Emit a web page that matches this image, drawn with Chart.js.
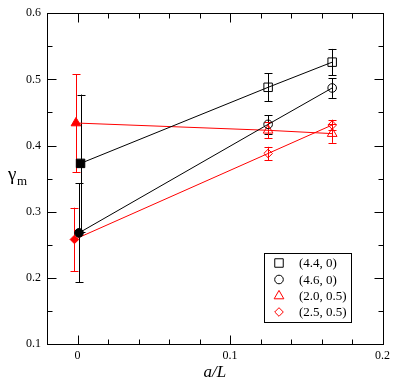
<!DOCTYPE html>
<html>
<head>
<meta charset="utf-8">
<script src="https://cdn.jsdelivr.net/npm/chart.js@4/dist/chart.umd.min.js"></script>
<style>
  html, body { margin: 0; padding: 0; background: #fff; }
  #wrap { width: 395px; height: 379px; }
</style>
</head>
<body>
<div id="wrap"><canvas id="chart" width="395" height="379"></canvas></div>
<script>
// ---- data ----
const legendLabels = ['(4.4, 0)', '(4.6, 0)', '(2.0, 0.5)', '(2.5, 0.5)'];

const xSq44 = [0.002, 0.125, 0.167];
const ySq44 = [0.373, 0.488, 0.526];
const eSq44 = [0.104, 0.021, 0.020];

const xCi46 = [0.001, 0.125, 0.167];
const yCi46 = [0.268, 0.432, 0.487];
const eCi46 = [0.075, 0.014, 0.015];

const xTr20 = [-0.001, 0.125, 0.167];
const yTr20 = [0.434, 0.423, 0.418];
const eTr20 = [0.074, 0.012, 0.014];

const xDi25 = [-0.002, 0.125, 0.167];
const yDi25 = [0.258, 0.388, 0.431];
const eDi25 = [0.048, 0.010, 0.008];

const xMajor = [0, 0.1, 0.2];
const yMajor = [0.1, 0.2, 0.3, 0.4, 0.5, 0.6];

const FONT = '"Liberation Serif", "DejaVu Serif", serif';
const CLEAR = 'rgba(0,0,0,0)';

function pts(xs, ys) {
    return xs.map((x, i) => ({ x: x, y: ys[i] }));
}

// filled marker at a/L = 0, open markers elsewhere
function fills(color) {
    return [color, CLEAR, CLEAR];
}

function makeSet(label, xs, ys, errs, color, style, radius) {
    return {
        label: label,
        data: pts(xs, ys),
        errors: errs,
        showLine: true,
        borderColor: color,
        borderWidth: 1,
        pointStyle: style,
        pointRadius: radius,
        pointHoverRadius: radius,
        pointBorderColor: color,
        pointBorderWidth: 1,
        pointBackgroundColor: fills(color)
    };
}

const datasets = [
    makeSet(legendLabels[0], xSq44, ySq44, eSq44, '#000000', 'rect', 6),
    makeSet(legendLabels[1], xCi46, yCi46, eCi46, '#000000', 'circle', 4.3),
    makeSet(legendLabels[2], xTr20, yTr20, eTr20, '#ff0000', 'triangle', 5.6),
    makeSet(legendLabels[3], xDi25, yDi25, eDi25, '#ff0000', 'rectRot', 4.3)
];

function isMajor(v, list) {
    return list.some(m => Math.abs(v - m) < 1e-9);
}

// error bars with small caps
const errorBars = {
    id: 'errorBars',
    beforeDatasetsDraw(chart) {
        const ctx = chart.ctx;
        const ys = chart.scales.y;
        ctx.save();
        chart.data.datasets.forEach((ds, i) => {
            const meta = chart.getDatasetMeta(i);
            ctx.strokeStyle = ds.borderColor;
            ctx.lineWidth = 1;
            meta.data.forEach((el, j) => {
                const v = ds.data[j].y;
                const e = ds.errors[j];
                const x = Math.round(el.x) + 0.5;
                const top = ys.getPixelForValue(v + e);
                const bot = ys.getPixelForValue(v - e);
                ctx.beginPath();
                ctx.moveTo(x, top);
                ctx.lineTo(x, bot);
                ctx.moveTo(x - 4, Math.round(top) + 0.5);
                ctx.lineTo(x + 4, Math.round(top) + 0.5);
                ctx.moveTo(x - 4, Math.round(bot) + 0.5);
                ctx.lineTo(x + 4, Math.round(bot) + 0.5);
                ctx.stroke();
            });
        });
        ctx.restore();
    }
};

// frame, inward ticks, axis titles and legend box
const frame = {
    id: 'frame',
    afterDraw(chart) {
        const ctx = chart.ctx;
        const a = chart.chartArea;
        const xs = chart.scales.x;
        const ys = chart.scales.y;
        ctx.save();
        ctx.strokeStyle = '#000';
        ctx.lineWidth = 1;
        const L = Math.round(a.left) + 0.5, R = Math.round(a.right) + 0.5;
        const T = Math.round(a.top) + 0.5, B = Math.round(a.bottom) + 0.5;
        ctx.strokeRect(L, T, R - L, B - T);

        ctx.beginPath();
        xs.ticks.forEach(t => {
            const p = Math.round(xs.getPixelForValue(t.value)) + 0.5;
            const len = isMajor(t.value, xMajor) ? 9 : 5;
            ctx.moveTo(p, B); ctx.lineTo(p, B - len);
            ctx.moveTo(p, T); ctx.lineTo(p, T + len);
        });
        ys.ticks.forEach(t => {
            const p = Math.round(ys.getPixelForValue(t.value)) + 0.5;
            const len = isMajor(t.value, yMajor) ? 9 : 5;
            ctx.moveTo(L, p); ctx.lineTo(L + len, p);
            ctx.moveTo(R, p); ctx.lineTo(R - len, p);
        });
        ctx.stroke();

        // axis titles
        ctx.fillStyle = '#000';
        ctx.textBaseline = 'alphabetic';
        ctx.textAlign = 'center';
        ctx.font = 'italic 17px ' + FONT;
        ctx.fillText('a/L', (a.left + a.right) / 2, 377);
        ctx.textAlign = 'left';
        ctx.font = '19px ' + FONT;
        ctx.fillText('γ', 8, 180);
        ctx.font = '13px ' + FONT;
        ctx.fillText('m', 17, 185);

        // legend
        const box = { left: 264.5, top: 253.5, right: 351.5, bottom: 322.5 };
        ctx.fillStyle = '#fff';
        ctx.fillRect(box.left, box.top, box.right - box.left, box.bottom - box.top);
        ctx.strokeStyle = '#000';
        ctx.strokeRect(box.left, box.top, box.right - box.left, box.bottom - box.top);
        const rowY = [263, 279.5, 296, 312];
        chart.data.datasets.forEach((ds, i) => {
            ctx.fillStyle = CLEAR;
            ctx.strokeStyle = ds.borderColor;
            ctx.lineWidth = 1;
            Chart.helpers.drawPoint(ctx, {
                pointStyle: ds.pointStyle,
                radius: ds.pointRadius,
                borderWidth: 1,
                rotation: 0
            }, 279, rowY[i]);
            ctx.fillStyle = '#000';
            ctx.font = '13px ' + FONT;
            ctx.textBaseline = 'middle';
            ctx.fillText(ds.label, 299, rowY[i] + 1);
        });
        ctx.restore();
    }
};

new Chart(document.getElementById('chart'), {
    type: 'scatter',
    data: { datasets: datasets },
    plugins: [errorBars, frame],
    options: {
        responsive: false,
        devicePixelRatio: 1,
        animation: false,
        layout: { padding: { top: 6, right: 10, left: 0, bottom: 0 } },
        plugins: {
            legend: { display: false },
            tooltip: { enabled: false }
        },
        scales: {
            x: {
                type: 'linear',
                min: -0.02,
                max: 0.2,
                afterFit: s => { s.height = 35; },
                grid: { display: false, drawTicks: false },
                border: { display: false },
                ticks: {
                    stepSize: 0.02,
                    autoSkip: false,
                    maxRotation: 0,
                    padding: 5,
                    color: '#000',
                    font: { family: FONT, size: 12 },
                    callback: v => isMajor(v, xMajor) ? String(Math.round(v * 10) / 10) : ''
                }
            },
            y: {
                type: 'linear',
                min: 0.1,
                max: 0.6,
                afterFit: s => { s.width = 47; },
                grid: { display: false, drawTicks: false },
                border: { display: false },
                ticks: {
                    stepSize: 0.05,
                    autoSkip: false,
                    padding: 6,
                    color: '#000',
                    font: { family: FONT, size: 12 },
                    callback: v => isMajor(v, yMajor) ? v.toFixed(1) : ''
                }
            }
        }
    }
});
</script>
</body>
</html>
